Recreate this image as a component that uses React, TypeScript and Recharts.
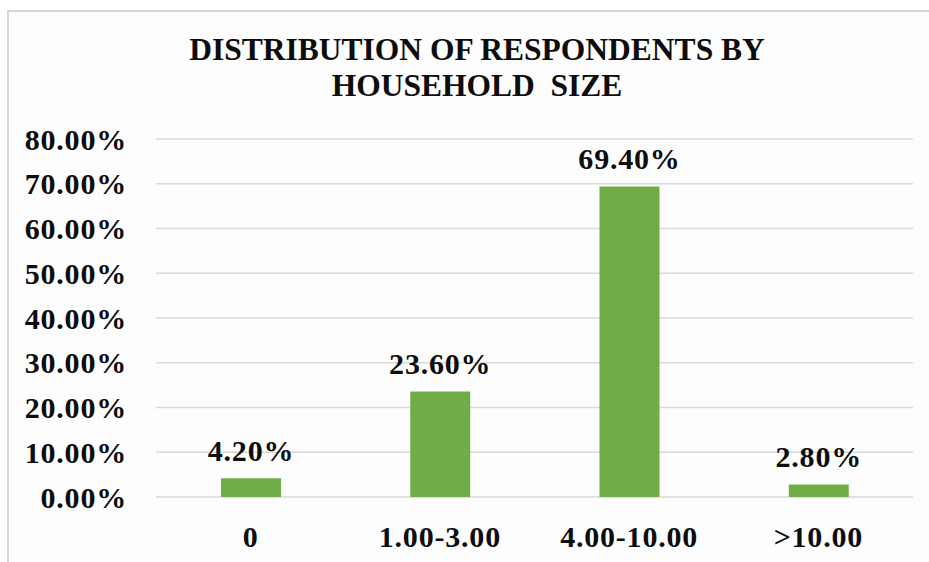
import React from "react";
import { BarChart, Bar, XAxis, YAxis, CartesianGrid, LabelList } from "recharts";

const categories = ["0", "1.00-3.00", "4.00-10.00", ">10.00"];
const shares = [4.2, 23.6, 69.4, 2.8];
const yTicks = [0, 10, 20, 30, 40, 50, 60, 70, 80];

const data = categories.map((size, i) => ({ size, share: shares[i] }));

const FONT = '"Liberation Serif", "Times New Roman", serif';
const pct = (v: number) => `${v.toFixed(2)}%`;

const textStyle = {
  fontSize: 30,
  fontWeight: 700,
  fontFamily: FONT,
  fill: "#0d0d0d",
  letterSpacing: 0.8,
};

export default function App() {
  return (
    <div
      style={{
        position: "absolute",
        left: 0,
        top: 0,
        width: 929,
        height: 562,
        overflow: "hidden",
        background: "#ffffff",
      }}
    >
      <div
        style={{
          position: "absolute",
          left: 7,
          top: 10,
          width: 1000,
          height: 1000,
          border: "2px solid #d6d6d6",
          background: "#fdfdfd",
        }}
      />
      <div
        style={{
          position: "absolute",
          left: 100,
          top: 32,
          width: 754,
          textAlign: "center",
          fontFamily: FONT,
          fontWeight: 700,
          fontSize: 31.5,
          lineHeight: "36px",
          color: "#0d0d0d",
          whiteSpace: "pre",
        }}
      >
        {"DISTRIBUTION OF RESPONDENTS BY\nHOUSEHOLD  SIZE"}
      </div>
      <div style={{ position: "absolute", left: 0, top: 0 }}>
        <BarChart
          width={929}
          height={562}
          data={data}
          margin={{ top: 139, right: 16, bottom: 0, left: 0 }}
        >
          <CartesianGrid vertical={false} stroke="#d9d9d9" strokeWidth={1.5} />
          <XAxis
            dataKey="size"
            height={65}
            axisLine={false}
            tickLine={false}
            tickSize={6}
            tickMargin={23}
            tick={textStyle}
            interval={0}
          />
          <YAxis
            width={156}
            domain={[0, 80]}
            ticks={yTicks}
            tickFormatter={pct}
            axisLine={false}
            tickLine={false}
            tickSize={6}
            tickMargin={23}
            tick={textStyle}
            interval={0}
          />
          <Bar dataKey="share" fill="#70ad47" barSize={60} isAnimationActive={false}>
            <LabelList
              dataKey="share"
              position="top"
              offset={17}
              formatter={(v: number) => pct(v)}
              style={textStyle}
            />
          </Bar>
        </BarChart>
      </div>
    </div>
  );
}
